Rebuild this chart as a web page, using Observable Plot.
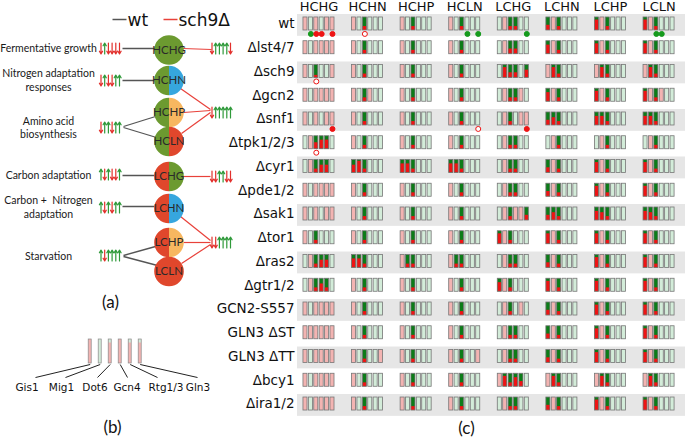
<!DOCTYPE html>
<html><head><meta charset="utf-8">
<script src="https://cdn.jsdelivr.net/npm/d3@7"></script>
<script src="https://cdn.jsdelivr.net/npm/@observablehq/plot@0.6"></script>
<style>
body{margin:0;background:#fff;}
#wrap{position:relative;width:700px;height:438px;overflow:hidden;background:#fff;}
#wrap svg{position:absolute;left:0;top:0;}
</style></head><body><div id="wrap"></div>
<script>
// ---------- Panel (c) data ----------
const conditions = ["HCHG","HCHN","HCHP","HCLN","LCHG","LCHN","LCHP","LCLN"];
const strains = ["wt","Δlst4/7","Δsch9","Δgcn2","Δsnf1","Δtpk1/2/3","Δcyr1","Δpde1/2","Δsak1","Δtor1","Δras2","Δgtr1/2","GCN2-S557","GLN3 ΔST","GLN3 ΔTT","Δbcy1","Δira1/2"];
// per strain, per condition: 6 TF cells (Gis1, Mig1, Dot6, Gcn4, Rtg1/3, Gln3)
// p = inactive (pale red), g = pale green, digit = active cell with red fraction (tenths)
const cellStates = [
  ["pgpgpp","pg3ggg","pg3ggg","pg3ggg","gp33gg","4p3ggg","8p3ggg","8p3ggg"],
  ["pgpppp","pg3ggg","pg3ggg","pg3ggg","gp44gg","7p3ggg","8p3ggg","8p3ggg"],
  ["pg2ggp","pg3ggg","pg3ggg","pg3ggg","g844g6","p83ggg","p83ggg","p83ggg"],
  ["pgpppp","pg3pgg","pg3ggg","pg3ggg","gp33pg","7p3ggg","8p3ggg","8p3pgg"],
  ["pgpgpp","pg3ggg","pg3ggg","pg3ggg","gp3gpp","463ggg","773ggg","773ggg"],
  ["gp577g","pg3ggg","pg3ggg","pg3ggg","gp33gg","gp3ggg","gp3ggg","gp3ggg"],
  ["gp366g","693ggg","773ggg","773ggg","gp33gg","4p3ggg","8p3ggg","8p3ggg"],
  ["pgpppp","pg3ggg","pg3ggg","pg3ggg","gp33gg","4p3ggg","8p3ggg","8p3ggg"],
  ["pgpgpp","pg3ggg","pg3ggg","pg3ggg","gp3pp4","463ggg","763ggg","763ggg"],
  ["pg3ggg","pg3ggg","pg3ggg","pg3ggg","8p3ggg","8p3ggg","8p3ggg","8p3ggg"],
  ["gp366g","773ggg","p33ggg","p33ggg","gp33gg","4p3ggg","8p3ggg","8p3ggg"],
  ["gp363g","pg3ggg","pg3ggg","pg3ggg","7p3ggg","8p3ggg","8p3ggg","8p3ggg"],
  ["pgpppp","pg3ggg","pg3ggg","pg3ggg","gp3gpg","4p3ggg","8p3ggg","8p3ggg"],
  ["pppppp","pg3ggg","pg3ggg","pg3ggg","gp33gg","4p3ggg","8p3ggg","8p3ggg"],
  ["pgpppp","pg3ggp","pg3ggg","pg3ggp","gp33gg","4p3ggg","8p3ggg","8p3ggg"],
  ["pgpppp","pg3ggg","pg3ggg","pg3ggg","p8374g","p83ggg","p83ggg","p83ggg"],
  ["pgpppp","pg3ggg","pg3ggg","pg3ggg","gp33gg","4p3ggg","8p3ggg","8p3ggg"]
];
// markers: [strain, condition, cell, kind]  kind: g = green dot, r = red dot, o = open red circle
const markers = [
  ["wt","HCHG",1,"g"],["wt","HCHG",2,"r"],["wt","HCHG",3,"r"],["wt","HCHG",5,"r"],
  ["wt","HCHN",2,"o"],["wt","HCLN",3,"g"],["wt","HCLN",5,"g"],["wt","LCHG",5,"g"],
  ["wt","LCLN",2,"g"],["wt","LCLN",3,"g"],
  ["Δsch9","HCHG",2,"o"],
  ["Δsnf1","HCHG",5,"r"],["Δsnf1","HCLN",5,"o"],["Δsnf1","LCHG",5,"r"],
  ["Δtpk1/2/3","HCHG",2,"o"]
];

// ---------- Panel (a) data ----------
const modules = ["HCHG","HCHN","HCHP","HCLN","LCHG","LCHN","LCHP","LCLN"];
const responses = ["Fermentative growth","Nitrogen adaptation\nresponses","Amino acid\nbiosynthesis","Carbon adaptation","Carbon +  Nitrogen\nadaptation","Starvation"];
const wtArrows = ["dudddd","dudduu","duuduu","ududdu","ududuu","uduuuu"];
const sch9Arrows = ["duuuud","duuuuu","dduudd","dduuuu"];

// ---------- Panel (b) data ----------
const tfs = ["Gis1","Mig1","Dot6","Gcn4","Rtg1/3","Gln3"];
const tfStates = ["p","g","pt","p","pt","pt"];

// ---------- colours ----------
const PINK = "#f3b4b2", PALEG = "#d3ecd9", DKG = "#0c7c18", RED = "#ee1414", EDGE = "#767676";
const cGreen = "#6c9a30", cRed = "#e0472c", cBlue = "#36a6de", cOrange = "#f7b760";

// ================= Panel (c) plot =================
const SLOTS = 9; // cell slots per condition group (6 cells + gap)
const cells = [];
strains.forEach((s, i) => cellStates[i].forEach((grp, g) => [...grp].forEach((ch, c) =>
  cells.push({row: i, pos: g * SLOTS + c, st: ch}))));
const mixed = cells.filter(d => /\d/.test(d.st)).map(d => ({...d, f: +d.st / 10}));
const stripes = strains.map((s, i) => i).filter(i => i % 2 === 0);
const dots = markers.map(([s, c, k, kind]) => ({row: strains.indexOf(s), pos: conditions.indexOf(c) * SLOTS + k, kind}));
const xDom = [-1.48, 70.4];
const H = 0.274;

const plotC = Plot.plot({
  width: 700, height: 438,
  marginLeft: 297, marginRight: 15, marginTop: 11.6, marginBottom: 22.6,
  x: {domain: xDom, axis: null},
  y: {domain: [-0.5, strains.length - 0.5], reverse: true, axis: null},
  style: {background: "transparent", fontFamily: "DejaVu Sans"},
  marks: [
    Plot.rect(stripes, {x1: () => xDom[0], x2: () => xDom[1], y1: d => d - 0.4, y2: d => d + 0.52, fill: "#e6e6e6"}),
    Plot.rect(cells, {x1: d => d.pos - 0.375, x2: d => d.pos + 0.375, y1: d => d.row - H, y2: d => d.row + H,
      fill: d => d.st === "p" ? PINK : d.st === "g" ? PALEG : DKG}),
    Plot.rect(mixed, {x1: d => d.pos - 0.375, x2: d => d.pos + 0.375, y1: d => d.row + H - 2 * H * d.f, y2: d => d.row + H, fill: RED}),
    Plot.rect(cells, {x1: d => d.pos - 0.375, x2: d => d.pos + 0.375, y1: d => d.row - H, y2: d => d.row + H,
      fill: "none", stroke: EDGE, strokeWidth: 0.8}),
    Plot.dot(dots, {x: "pos", y: d => d.row + 0.42, r: 2.5,
      fill: d => d.kind === "g" ? "#159a1c" : d.kind === "r" ? RED : "white",
      stroke: d => d.kind === "g" ? "#159a1c" : RED, strokeWidth: 1}),
    Plot.text(strains, {y: (d, i) => i, frameAnchor: "left", dx: -3, textAnchor: "end", fontSize: 13.5, fill: "#111"}),
    Plot.text(conditions, {x: (d, g) => g * SLOTS + 2.5, frameAnchor: "top", lineAnchor: "middle", dy: -5.5, fontSize: 13, fill: "#111"})
  ]
});

// ================= Panels (a), (b) overlay =================
// diagram layout (pixel space)
const modY = [49.5, 80, 112, 141, 176, 208, 242, 271];
const modX = 168.5, modR = 14.8;
const respY = [47, 79, 126.5, 174, 206, 255];
const wtArrowY = [48, 80, 127, 174, 207, 255];
const sch9ArrowY = [48, 112, 176, 242];

const leftHalf = {draw(ctx, size) {const r = Math.sqrt(size / Math.PI); ctx.moveTo(0, -r); ctx.arc(0, 0, r, -Math.PI / 2, Math.PI / 2, true); ctx.closePath();}};
const rightHalf = {draw(ctx, size) {const r = Math.sqrt(size / Math.PI); ctx.moveTo(0, -r); ctx.arc(0, 0, r, -Math.PI / 2, Math.PI / 2, false); ctx.closePath();}};
const leftColor = m => m.startsWith("HC") ? cGreen : cRed;
const rightColor = m => ({HG: cGreen, HN: cBlue, HP: cOrange, LN: cRed})[m.slice(2)];

const arrowsFrom = (patterns, ys, x0) => patterns.flatMap((p, j) => [...p].map((ch, k) => ({
  x: x0 + k * 3.7, y: ys[j], up: ch === "u"})));
const arrows = [...arrowsFrom(wtArrows, wtArrowY, 100.5), ...arrowsFrom(sch9Arrows, sch9ArrowY, 211.5)];

const wtLinks = [[122,48,155,48],[122,80,154,80],[123,126,155,116],[123,127,156,137],
  [122,175,154,175],[122,206,154,206],[123,255,155,246],[123,256,157,265]];
const sch9Links = [[182,48,211,49],[180,88,210,109],[183,112,210,110],[181,133,210,112],
  [182,176,210,176],[180,216,210,240],[183,242,210,242],[181,263,210,244]];

const tfX = tfs.map((t, k) => 89.7 + k * 10);
const tfLabelX = [26.5, 61, 94.5, 126.5, 165.5, 197.5];
const tfLineEnd = [35, 65, 97, 127, 157, 197];
const tfBars = tfs.map((t, k) => ({k, st: tfStates[k]}));

const plotAB = Plot.plot({
  width: 700, height: 438, margin: 0,
  x: {domain: [0, 700], range: [0, 700], axis: null},
  y: {domain: [0, 438], range: [0, 438], axis: null},
  style: {background: "transparent", fontFamily: "Lato"},
  marks: [
    // legend
    Plot.link([{x1: 112, x2: 126, s: "#555"}, {x1: 163, x2: 177, s: "#e8413a"}], {x1: "x1", x2: "x2", y1: () => 19, y2: () => 19, stroke: "s", strokeWidth: 1.5}),
    Plot.text(["wt", "sch9Δ"], {x: (d, i) => [127, 178][i], y: () => 20, textAnchor: "start", fontSize: 17, fill: "#111", fontFamily: "DejaVu Sans"}),
    // connectors
    Plot.link(wtLinks, {x1: d => d[0], y1: d => d[1], x2: d => d[2], y2: d => d[3], stroke: "#555", strokeWidth: 1.3}),
    Plot.link(sch9Links, {x1: d => d[0], y1: d => d[1], x2: d => d[2], y2: d => d[3], stroke: "#e8413a", strokeWidth: 1.2}),
    // module circles
    Plot.dot(modules, {x: () => modX, y: (d, i) => modY[i], r: modR, symbol: leftHalf, fill: leftColor}),
    Plot.dot(modules, {x: () => modX, y: (d, i) => modY[i], r: modR, symbol: rightHalf, fill: rightColor}),
    Plot.text(modules, {x: () => modX, y: (d, i) => modY[i], fontSize: 11.5, fill: "#2a2a2a"}),
    // response labels
    Plot.text(responses, {x: () => 48, y: (d, i) => respY[i], fontSize: 10.5, lineHeight: 1.33, fill: "#1a1a1a"}),
    // arrows
    Plot.arrow(arrows, {x1: "x", x2: "x", y1: d => d.up ? d.y + 5.5 : d.y - 5.5, y2: d => d.up ? d.y - 5.5 : d.y + 5.5,
      stroke: d => d.up ? "#2f9a3a" : "#e2302c", strokeWidth: 1.2, headLength: 4}),
    Plot.text(["(a)", "(b)", "(c)"], {x: (d, i) => [110, 112, 466][i], y: (d, i) => [302, 427, 428][i], fontSize: 17, fill: "#111"}),
    // panel (b)
    Plot.rect(tfBars, {x1: d => tfX[d.k] - 1.5, x2: d => tfX[d.k] + 1.5, y1: () => 339, y2: () => 363, fill: d => d.st === "g" ? PALEG : PINK}),
    Plot.rect(tfBars.filter(d => d.st === "pt"), {x1: d => tfX[d.k] - 1.5, x2: d => tfX[d.k] + 1.5, y1: () => 339, y2: () => 342.5, fill: PALEG}),
    Plot.rect(tfBars, {x1: d => tfX[d.k] - 1.5, x2: d => tfX[d.k] + 1.5, y1: () => 339, y2: () => 363, fill: "none", stroke: "#888", strokeWidth: 0.7}),
    Plot.link(tfBars, {x1: d => tfX[d.k], y1: () => 364, x2: d => tfLineEnd[d.k], y2: () => 377, stroke: "#222", strokeWidth: 1}),
    Plot.text(tfs, {x: (d, k) => tfLabelX[k], y: () => 387, fontSize: 10.5, fill: "#111", fontFamily: "DejaVu Sans"})
  ]
});

const wrap = document.getElementById("wrap");
wrap.appendChild(plotC);
wrap.appendChild(plotAB);
</script>
</body></html>
